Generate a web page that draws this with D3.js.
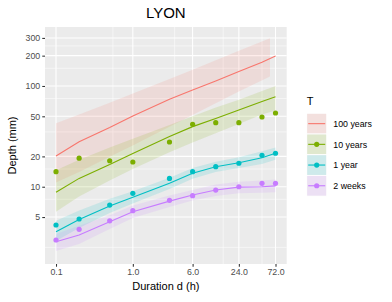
<!DOCTYPE html>
<html>
<head>
<meta charset="utf-8">
<script src="https://cdn.jsdelivr.net/npm/d3@7"></script>
<style>
  body { margin: 0; background: #fff; }
  text { font-family: "Liberation Sans", Arial, sans-serif; }
</style>
</head>
<body>
<div id="chart"></div>
<script>
// Durations (h) and IDF depths (mm)
var durations = [0.1, 0.2, 0.5, 1, 3, 6, 12, 24, 48, 72];
var redRibbonDur = [0.1, 0.2, 0.5, 1, 3, 6, 12, 24, 61];

var seriesNames = ["100 years", "10 years", "1 year", "2 weeks"];
var colors = ["#F8766D", "#7CAE00", "#00BFC4", "#C77CFF"];

// fitted curves
var fit100y = [20.2, 28, 38.8, 50.4, 74, 91, 112, 139, 172, 198];
var fit10y = [8.8, 12.1, 16.6, 21.4, 31.5, 39.5, 47.5, 57.8, 70, 78];
var fit1y = [3.57, 4.74, 6.43, 7.85, 10.8, 13.6, 15.8, 17.3, 19.4, 21.5];
var fit2w = [2.84, 3.31, 4.49, 5.65, 7.2, 8.28, 9.27, 9.9, 10.0, 10.2];

// confidence bands
var up100y = [42.7, 52, 68, 84, 117, 145, 180, 224, 298];
var lo100y = [11, 14, 19.8, 25.6, 39.3, 51.5, 67.5, 88.4, 124];
var up10y = [14.6, 18.5, 24.5, 30, 41, 50, 61, 73, 89, 100];
var lo10y = [5.65, 8, 11.5, 15, 22, 27.5, 34, 42, 52, 57];
var up1y = [4.6, 5.8, 7.6, 9.0, 12.3, 15.3, 17.7, 19.6, 22.5, 24.5];
var lo1y = [2.9, 3.9, 5.5, 6.8, 9.5, 12, 14, 15.3, 16.8, 18.5];
var up2w = [3.4, 4.1, 5.2, 6.5, 8.2, 9.3, 10.5, 11.2, 11.5, 11.8];
var lo2w = [2.3, 2.7, 3.8, 4.9, 6.3, 7.3, 8.1, 8.6, 8.7, 8.8];

// observed points (no points for 100 years)
var obs10y = [14.1, 19.2, 18.1, 17.6, 27.8, 41.7, 43.2, 43.2, 49.2, 53.9];
var obs1y = [4.17, 4.78, 6.58, 8.6, 12.1, 14.1, 15.8, 17.1, 20.5, 21.5];
var obs2w = [2.96, 3.78, 4.59, 5.78, 7.33, 8.15, 9.27, 10.0, 10.8, 10.8];

var xTicks = [0.1, 1, 6, 24, 72];
var xMinor = [0.55, 3.5, 15, 48];
var yTicks = [5, 10, 20, 50, 100, 200, 300];
var yMinor = [2.5, 7.5, 15, 35, 75, 150, 250];

var svgWidth = 392, svgHeight = 302;
var panel = { left: 45, right: 286.7, top: 27, bottom: 264 };

var svg = d3.select("#chart").append("svg")
  .attr("width", svgWidth)
  .attr("height", svgHeight);

var x = d3.scaleLog().domain([0.0719, 100.7]).range([panel.left, panel.right]);
var y = d3.scaleLog().domain([1.71, 385]).range([panel.bottom, panel.top]);

// panel background + grid
svg.append("rect")
  .attr("x", panel.left).attr("y", panel.top)
  .attr("width", panel.right - panel.left)
  .attr("height", panel.bottom - panel.top)
  .attr("fill", "#EBEBEB");

var grid = svg.append("g");
grid.selectAll(".ymin").data(yMinor).enter().append("line")
  .attr("x1", panel.left).attr("x2", panel.right)
  .attr("y1", d => y(d)).attr("y2", d => y(d))
  .attr("stroke", "#fff").attr("stroke-width", 0.53);
grid.selectAll(".xmin").data(xMinor).enter().append("line")
  .attr("y1", panel.top).attr("y2", panel.bottom)
  .attr("x1", d => x(d)).attr("x2", d => x(d))
  .attr("stroke", "#fff").attr("stroke-width", 0.53);
grid.selectAll(".ymaj").data(yTicks).enter().append("line")
  .attr("x1", panel.left).attr("x2", panel.right)
  .attr("y1", d => y(d)).attr("y2", d => y(d))
  .attr("stroke", "#fff").attr("stroke-width", 1.07);
grid.selectAll(".xmaj").data(xTicks).enter().append("line")
  .attr("y1", panel.top).attr("y2", panel.bottom)
  .attr("x1", d => x(d)).attr("x2", d => x(d))
  .attr("stroke", "#fff").attr("stroke-width", 1.07);

// ribbons
var ribbons = [
  { dur: redRibbonDur, up: up100y, lo: lo100y },
  { dur: durations, up: up10y, lo: lo10y },
  { dur: durations, up: up1y, lo: lo1y },
  { dur: durations, up: up2w, lo: lo2w }
];
var area = d3.area()
  .x(d => x(d[0]))
  .y0(d => y(d[2]))
  .y1(d => y(d[1]));
ribbons.forEach(function(r, i) {
  var pts = r.dur.map((d, j) => [d, r.up[j], r.lo[j]]);
  svg.append("path")
    .attr("d", area(pts))
    .attr("fill", colors[i])
    .attr("fill-opacity", 0.14);
});

// fitted lines
var fits = [fit100y, fit10y, fit1y, fit2w];
var line = d3.line().x(d => x(d[0])).y(d => y(d[1]));
fits.forEach(function(f, i) {
  svg.append("path")
    .attr("d", line(durations.map((d, j) => [d, f[j]])))
    .attr("fill", "none")
    .attr("stroke", colors[i])
    .attr("stroke-width", 1.1);
});

// observations
var obs = [null, obs10y, obs1y, obs2w];
obs.forEach(function(o, i) {
  if (!o) return;
  svg.append("g").selectAll("circle")
    .data(durations.map((d, j) => [d, o[j]]))
    .enter().append("circle")
    .attr("cx", d => x(d[0]))
    .attr("cy", d => y(d[1]))
    .attr("r", 2.6)
    .attr("fill", colors[i]);
});

// axes
var bottomAxis = d3.axisBottom(x).tickValues(xTicks)
  .tickFormat(d3.format(".1f")).tickSize(2.74).tickPadding(2);
var leftAxis = d3.axisLeft(y).tickValues(yTicks)
  .tickFormat(d3.format("d")).tickSize(2.74).tickPadding(2);

var gx = svg.append("g")
  .attr("transform", `translate(0, ${panel.bottom})`)
  .call(bottomAxis);
var gy = svg.append("g")
  .attr("transform", `translate(${panel.left}, 0)`)
  .call(leftAxis);
[gx, gy].forEach(function(g) {
  g.select(".domain").remove();
  g.selectAll(".tick line").attr("stroke", "#333333").attr("stroke-width", 1.07);
  g.selectAll(".tick text").attr("fill", "#4D4D4D")
    .style("font-size", "8.8px")
    .style("font-family", "'Liberation Sans', Arial, sans-serif");
});

// titles
svg.append("text")
  .attr("x", (panel.left + panel.right) / 2).attr("y", 18)
  .attr("text-anchor", "middle")
  .style("font-size", "15px")
  .text("LYON");

svg.append("text")
  .attr("x", (panel.left + panel.right) / 2).attr("y", 290)
  .attr("text-anchor", "middle")
  .style("font-size", "11px")
  .text("Duration d (h)");

svg.append("text")
  .attr("transform", `translate(15.5, ${(panel.top + panel.bottom) / 2}) rotate(-90)`)
  .attr("text-anchor", "middle")
  .style("font-size", "11px")
  .text("Depth (mm)");

// legend
var legend = svg.append("g").attr("transform", "translate(306.7, 0)");
legend.append("text")
  .attr("x", 0).attr("y", 105)
  .style("font-size", "11px")
  .text("T");

var keyW = 20, keyH = 20.7, keyTop = 113.3;
seriesNames.forEach(function(name, i) {
  var ky = keyTop + i * keyH;
  var k = legend.append("g").attr("transform", `translate(0, ${ky})`);
  k.append("rect")
    .attr("width", keyW).attr("height", keyH)
    .attr("fill", "#F2F2F2").attr("stroke", "#fff").attr("stroke-width", 0.8);
  k.append("rect")
    .attr("x", 0.5).attr("y", 0.5)
    .attr("width", keyW - 1).attr("height", keyH - 1)
    .attr("fill", colors[i]).attr("fill-opacity", 0.15);
  k.append("line")
    .attr("x1", 1.5).attr("x2", keyW - 1.5)
    .attr("y1", keyH / 2).attr("y2", keyH / 2)
    .attr("stroke", colors[i]).attr("stroke-width", 1.1);
  if (obs[i]) {
    k.append("circle")
      .attr("cx", keyW / 2).attr("cy", keyH / 2).attr("r", 2.6)
      .attr("fill", colors[i]);
  }
  k.append("text")
    .attr("x", 26.6).attr("y", keyH / 2 + 3.2)
    .style("font-size", "8.8px")
    .text(name);
});
</script>
</body>
</html>
